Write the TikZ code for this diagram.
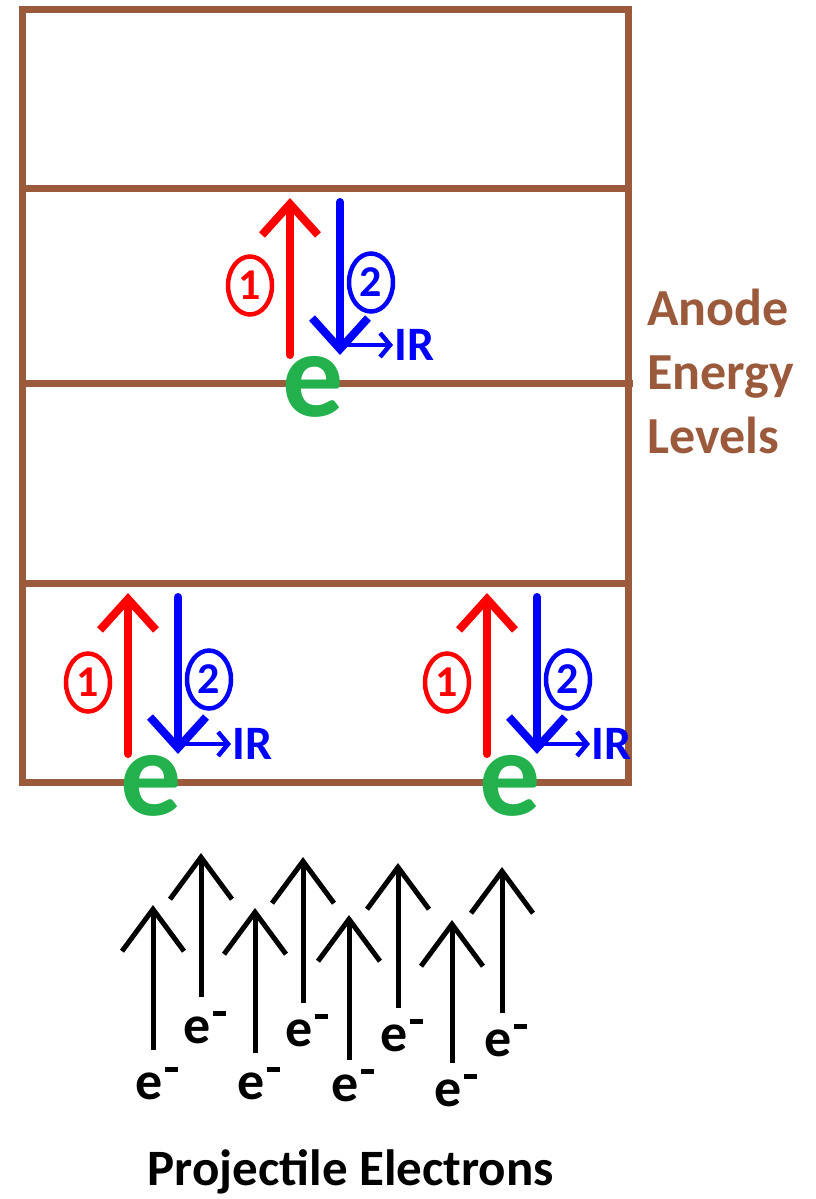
\documentclass[tikz,border=0pt]{standalone}
\usepackage{fontspec}
\setmainfont{Carlito}
\usetikzlibrary{arrows.meta,shapes.geometric,positioning}

\definecolor{anode}{RGB}{156,90,60}
\definecolor{elgreen}{RGB}{34,177,76}

% projectile electron label: e with a bar
\newcommand{\elec}{e\hspace{0.03em}\rule[0.5em]{0.25em}{0.1em}}

\begin{document}
\begin{tikzpicture}[x=1pt,y=-1pt,
		level/.style={draw=anode, line width=7pt},
		excite/.style={red, line width=8pt, line cap=round, -{Straight Barb[length=31pt,width=56pt]}},
		relax/.style={blue, line width=8pt, line cap=round, -{Straight Barb[length=31pt,width=56pt]}},
		infra/.style={blue, line width=4.5pt, -{Straight Barb[length=10pt,width=24pt]}},
		stepnum/.style={ellipse, draw, line width=4.5pt, minimum width=44pt, minimum height=58pt, inner sep=0pt, font=\fontsize{44}{44}\selectfont\bfseries},
		bigE/.style={elgreen, inner sep=0pt, font=\fontsize{122}{122}\selectfont\bfseries},
		irtext/.style={blue, inner sep=1pt, font=\fontsize{48}{48}\selectfont\bfseries},
		projectile/.style={line width=5pt, -{Straight Barb[length=42pt,width=62pt]}},
		plabel/.style={inner sep=0pt, font=\fontsize{54}{54}\selectfont\bfseries}]
	\useasboundingbox (0,0) rectangle (815,1199);

	% Anode box and energy levels
	\draw[level] (22,10) rectangle (628,782);
	\draw[level] (22,188) -- (628,188);
	\draw[level] (22,383) -- (633,383);
	\draw[level] (22,583) -- (628,583);

	\node[anchor=base west, text=anode, align=left, inner sep=0pt,
		font=\fontsize{52}{64}\selectfont\bfseries] (levels) at (647,453) {Anode\\Energy\\Levels};

	% Excitation (1) and relaxation (2) of anode electrons
	\foreach \r/\lo/\hi/\n in {290/383/188/t, 128/782/583/l, 487/782/583/r}{
		\node[bigE] (e\n) at ({\r+23},{\lo+4}) {e};
		\draw[excite] (\r,{\lo-28}) -- (\r,{\hi+10});
		\draw[relax] ({\r+50},{\hi+14}) -- ({\r+50},{\lo-28});
		\node[stepnum, red] (one\n) at ({\r-40},{(\lo+\hi)/2}) {1};
		\node[stepnum, blue] (two\n) at ({\r+81},{(\lo+\hi)/2-3}) {2};
		\node[irtext, anchor=west] (ir\n) at ({\r+103},{\lo-38}) {IR};
		\draw[infra] ({\r+54},{\lo-38}) -- (ir\n.west);
	}

	% Projectile electrons
	\foreach \x/\t/\b/\l [count=\i] in {153/905/1050/1083, 201/853/997/1027, 255/908/1053/1083,
		303/857/1003/1030, 349/915/1060/1085, 398/863/1008/1035, 452/920/1063/1090, 502/867/1013/1040}{
		\node[plabel] (p\i) at ({\x+4},\l) {\elec};
		\draw[projectile] (\x,\b) -- (\x,\t);
	}

	\node[anchor=base, font=\fontsize{51}{51}\selectfont\bfseries] (title) at (351,1185) {Projectile Electrons};
\end{tikzpicture}
\end{document}
